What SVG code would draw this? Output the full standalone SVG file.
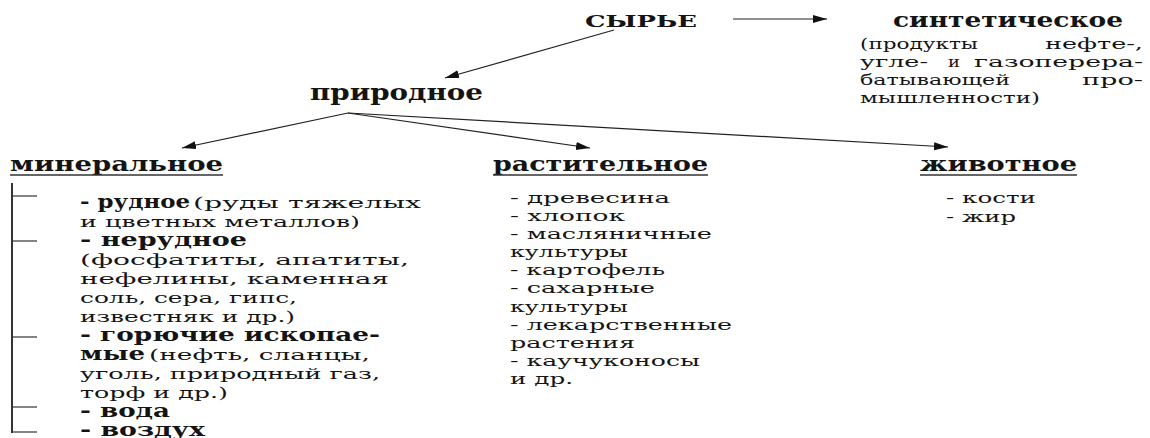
<svg xmlns="http://www.w3.org/2000/svg" width="1150" height="438" viewBox="0 0 1150 438">
<style>
text{font-family:"DejaVu Serif","Liberation Serif","Times New Roman",serif;fill:#141414}
.b{font-weight:bold}
.h{font-size:21px;font-weight:bold}
.t{font-size:15px}
.m{font-size:18px;font-weight:bold}
.ln{stroke:#222;stroke-width:1.2;fill:none}
.ul{stroke:#333;stroke-width:1.6}
.br{stroke:#333;stroke-width:1.2}
</style>
<defs>
<marker id="ah" markerUnits="userSpaceOnUse" markerWidth="16" markerHeight="10" refX="14" refY="5" orient="auto">
<path d="M0,1 L14,5 L0,9 Z" fill="#111"/>
</marker>
</defs>
<rect width="1150" height="438" fill="#fff"/>
<g id="connectors">
<line class="ln" x1="733" y1="19" x2="827" y2="19" marker-end="url(#ah)"/>
<line class="ln" x1="614" y1="30" x2="445" y2="78" marker-end="url(#ah)"/>
<line class="ln" x1="348" y1="113" x2="182" y2="148" marker-end="url(#ah)"/>
<line class="ln" x1="348" y1="113" x2="590" y2="148" marker-end="url(#ah)"/>
<line class="ln" x1="348" y1="113" x2="948" y2="147" marker-end="url(#ah)"/>
</g>
<g id="syrye">
<text x="585" y="27" font-size="17" class="b" textLength="112" lengthAdjust="spacingAndGlyphs">СЫРЬЕ</text>
</g>
<g id="sinteticheskoe">
<text x="893" y="27" class="h" textLength="230" lengthAdjust="spacingAndGlyphs">синтетическое</text>
<text class="t" x="860" y="49" textLength="118" lengthAdjust="spacingAndGlyphs">(продукты</text>
<text class="t" x="1045" y="49" textLength="98" lengthAdjust="spacingAndGlyphs">нефте-,</text>
<text class="t" x="860" y="67" textLength="68" lengthAdjust="spacingAndGlyphs">угле-</text>
<text class="t" x="948" y="67" textLength="12" lengthAdjust="spacingAndGlyphs">и</text>
<text class="t" x="974" y="67" textLength="169" lengthAdjust="spacingAndGlyphs">газоперера-</text>
<text class="t" x="860" y="85" textLength="150" lengthAdjust="spacingAndGlyphs">батывающей</text>
<text class="t" x="1082" y="85" textLength="61" lengthAdjust="spacingAndGlyphs">про-</text>
<text class="t" x="860" y="103" textLength="180" lengthAdjust="spacingAndGlyphs">мышленности)</text>
</g>
<g id="prirodnoe">
<text x="310" y="100" font-size="23" class="b" textLength="173" lengthAdjust="spacingAndGlyphs">природное</text>
</g>
<g id="mineralnoe">
<text x="10" y="171" class="h" textLength="213" lengthAdjust="spacingAndGlyphs">минеральное</text>
<line class="ul" x1="10" y1="175" x2="223" y2="175"/>
<line stroke="#333" stroke-width="2" x1="12" y1="183" x2="12" y2="433"/>
<line class="br" x1="12" y1="196" x2="37" y2="196"/>
<line class="br" x1="12" y1="241" x2="37" y2="241"/>
<line class="br" x1="12" y1="337" x2="37" y2="337"/>
<line class="br" x1="12" y1="407" x2="37" y2="407"/>
<line class="br" x1="12" y1="432" x2="37" y2="432"/>
<text class="m" x="80" y="208" textLength="110" lengthAdjust="spacingAndGlyphs">- рудное</text>
<text class="t" x="193" y="208" textLength="228" lengthAdjust="spacingAndGlyphs">(руды тяжелых</text>
<text class="t" x="80" y="227" textLength="280" lengthAdjust="spacingAndGlyphs">и цветных металлов)</text>
<text class="m" x="80" y="246" textLength="167" lengthAdjust="spacingAndGlyphs">- нерудное</text>
<text class="t" x="80" y="265" textLength="329" lengthAdjust="spacingAndGlyphs">(фосфатиты, апатиты,</text>
<text class="t" x="80" y="284" textLength="309" lengthAdjust="spacingAndGlyphs">нефелины, каменная</text>
<text class="t" x="80" y="303" textLength="217" lengthAdjust="spacingAndGlyphs">соль, сера, гипс,</text>
<text class="t" x="80" y="322" textLength="215" lengthAdjust="spacingAndGlyphs">известняк и др.)</text>
<text class="m" x="80" y="341" textLength="300" lengthAdjust="spacingAndGlyphs">- горючие ископае-</text>
<text class="m" x="80" y="360" textLength="65" lengthAdjust="spacingAndGlyphs">мые</text>
<text class="t" x="149" y="360" textLength="221" lengthAdjust="spacingAndGlyphs">(нефть, сланцы,</text>
<text class="t" x="80" y="379" textLength="300" lengthAdjust="spacingAndGlyphs">уголь, природный газ,</text>
<text class="t" x="80" y="398" textLength="148" lengthAdjust="spacingAndGlyphs">торф и др.)</text>
<text class="m" x="80" y="417" textLength="90" lengthAdjust="spacingAndGlyphs">- вода</text>
<text class="m" x="80" y="436" textLength="125" lengthAdjust="spacingAndGlyphs">- воздух</text>
</g>
<g id="rastitelnoe">
<text x="493" y="171" class="h" textLength="215" lengthAdjust="spacingAndGlyphs">растительное</text>
<line class="ul" x1="493" y1="175" x2="708" y2="175"/>
<text class="t" x="510" y="203" textLength="160" lengthAdjust="spacingAndGlyphs">- древесина</text>
<text class="t" x="510" y="221" textLength="115" lengthAdjust="spacingAndGlyphs">- хлопок</text>
<text class="t" x="510" y="239" textLength="202" lengthAdjust="spacingAndGlyphs">- масляничные</text>
<text class="t" x="510" y="257" textLength="118" lengthAdjust="spacingAndGlyphs">культуры</text>
<text class="t" x="510" y="275" textLength="155" lengthAdjust="spacingAndGlyphs">- картофель</text>
<text class="t" x="510" y="293" textLength="145" lengthAdjust="spacingAndGlyphs">- сахарные</text>
<text class="t" x="510" y="312" textLength="118" lengthAdjust="spacingAndGlyphs">культуры</text>
<text class="t" x="510" y="330" textLength="222" lengthAdjust="spacingAndGlyphs">- лекарственные</text>
<text class="t" x="510" y="348" textLength="125" lengthAdjust="spacingAndGlyphs">растения</text>
<text class="t" x="510" y="366" textLength="190" lengthAdjust="spacingAndGlyphs">- каучуконосы</text>
<text class="t" x="510" y="384" textLength="63" lengthAdjust="spacingAndGlyphs">и др.</text>
</g>
<g id="zhivotnoe">
<text x="920" y="171" class="h" textLength="157" lengthAdjust="spacingAndGlyphs">животное</text>
<line class="ul" x1="920" y1="175" x2="1077" y2="175"/>
<text class="t" x="946" y="203" textLength="90" lengthAdjust="spacingAndGlyphs">- кости</text>
<text class="t" x="946" y="222" textLength="70" lengthAdjust="spacingAndGlyphs">- жир</text>
</g>
</svg>
